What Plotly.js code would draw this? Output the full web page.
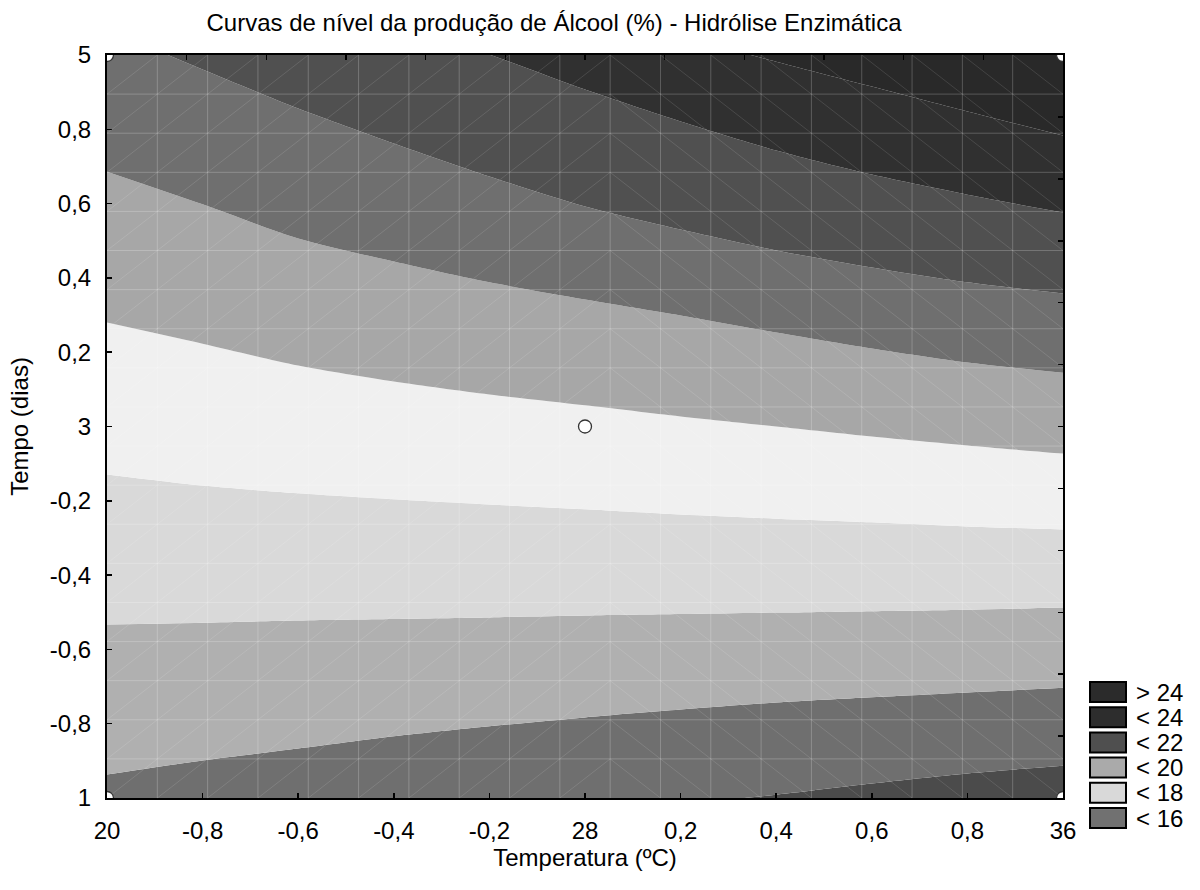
<!DOCTYPE html>
<html><head><meta charset="utf-8">
<script src="https://cdn.plot.ly/plotly-3.0.1.min.js"></script>
<style>html,body{margin:0;padding:0;background:#fff}#chart{width:1200px;height:890px}</style>
</head><body><div id="chart"></div>
<script>
// coded Temperatura positions at which the level boundaries were read
const xCoded = [-1, -0.8, -0.6, -0.4, -0.2, 0, 0.2, 0.4, 0.6, 0.8, 1];
// level boundaries (coded Tempo), bottom to top
const floorY = [-1.5, -1.5, -1.5, -1.5, -1.5, -1.5, -1.5, -1.5, -1.5, -1.5, -1.5];
const bLow4 = [-1.139, -1.112, -1.085, -1.068, -1.053, -1.039, -1.017, -0.991, -0.961, -0.934, -0.913];
const bLow3 = [-0.937, -0.899, -0.867, -0.834, -0.807, -0.783, -0.762, -0.743, -0.729, -0.716, -0.703];
const bLow2 = [-0.533, -0.528, -0.522, -0.518, -0.514, -0.509, -0.505, -0.501, -0.497, -0.493, -0.487];
const bLow1 = [-0.129, -0.159, -0.180, -0.196, -0.210, -0.223, -0.237, -0.248, -0.258, -0.269, -0.277];
const bUp1 = [0.280, 0.223, 0.164, 0.121, 0.086, 0.057, 0.027, 0.000, -0.027, -0.051, -0.073];
const bUp2 = [0.686, 0.598, 0.506, 0.444, 0.388, 0.342, 0.299, 0.253, 0.210, 0.172, 0.145];
const bUp3 = [1.069, 0.961, 0.856, 0.762, 0.673, 0.592, 0.530, 0.474, 0.428, 0.388, 0.358];
const bUp4 = [1.311, 1.230, 1.149, 1.082, 1.001, 0.907, 0.821, 0.743, 0.678, 0.624, 0.576];
const bUp5 = [1.391, 1.338, 1.284, 1.230, 1.176, 1.117, 1.050, 0.982, 0.915, 0.848, 0.783];
const ceilY = [1.5, 1.5, 1.5, 1.5, 1.5, 1.5, 1.5, 1.5, 1.5, 1.5, 1.5];
// fill colour of each band, bottom to top
const bandColors = ['#4b4b4b', '#6f6f6f', '#b0b0b0', '#d9d9d9', '#f0f0f0', '#a7a7a7', '#6f6f6f', '#505050', '#303030', '#292929'];

// experimental design points
const designX = [-1, -1, 1, 1, 0];
const designY = [-1, 1, -1, 1, 0];

// tick labels
const xTickVals = [-1, -0.8, -0.6, -0.4, -0.2, 0, 0.2, 0.4, 0.6, 0.8, 1];
const xTickText = ['20', '-0,8', '-0,6', '-0,4', '-0,2', '28', '0,2', '0,4', '0,6', '0,8', '36'];
const yTickVals = [-1, -0.8, -0.6, -0.4, -0.2, 0, 0.2, 0.4, 0.6, 0.8, 1];
const yTickText = ['1', '-0,8', '-0,6', '-0,4', '-0,2', '3', '0,2', '0,4', '0,6', '0,8', '5'];

// legend
const legendLabels = ['> 24', '< 24', '< 22', '< 20', '< 18', '< 16'];
const legendColors = ['#2b2b2b', '#2d2d2d', '#4f4f4f', '#aaaaaa', '#d9d9d9', '#717171'];

const boundaries = [floorY, bLow4, bLow3, bLow2, bLow1, bUp1, bUp2, bUp3, bUp4, bUp5, ceilY];

const FONT = 'Liberation Sans, Arial, sans-serif';
const FS = 24;
const traces = [];
boundaries.forEach((b, i) => {
  traces.push({
    type: 'scatter', mode: 'lines', x: xCoded, y: b,
    line: {width: 0, shape: 'spline', smoothing: 0.8},
    fill: i === 0 ? 'none' : 'tonexty',
    fillcolor: i === 0 ? undefined : bandColors[i - 1],
    hoverinfo: 'skip', showlegend: false
  });
});
traces.push({
  type: 'scatter', mode: 'markers', x: designX, y: designY, cliponaxis: true,
  marker: {symbol: 'circle', size: 13, color: '#ffffff', line: {color: '#333333', width: 1.3}},
  hoverinfo: 'skip', showlegend: false
});
// helper trace so the top / right axes are drawn
traces.push({type: 'scatter', mode: 'markers', x: [0], y: [0], xaxis: 'x2', yaxis: 'y2',
  marker: {opacity: 0}, hoverinfo: 'skip', showlegend: false});

const PL = 107, PR = 1063, PT = 55, PB = 798;
const px2x = p => (p - PL) / (PR - PL);
const py2y = p => (PB - p) / (PB - PT);

const shapes = [];
// triangulation mesh of the surface plot (decorative)
const N = 19;
const meshLine = {color: 'rgba(255,255,255,0.22)', width: 1};
const diagLine = {color: 'rgba(255,255,255,0.15)', width: 0.8};
for (let k = 1; k < N; k++) {
  shapes.push({type: 'line', xref: 'paper', yref: 'paper', x0: k / N, x1: k / N, y0: 0, y1: 1, line: meshLine, layer: 'above'});
  shapes.push({type: 'line', xref: 'paper', yref: 'paper', x0: 0, x1: 1, y0: k / N, y1: k / N, line: meshLine, layer: 'above'});
}
for (let i = 0; i < N; i++) {
  for (let j = 0; j < N; j++) {
    const rising = i <= 9;
    shapes.push({type: 'line', xref: 'paper', yref: 'paper',
      x0: i / N, x1: (i + 1) / N,
      y0: rising ? j / N : (j + 1) / N, y1: rising ? (j + 1) / N : j / N,
      line: diagLine, layer: 'above'});
  }
}
// legend boxes
const annotations = [];
legendLabels.forEach((lab, k) => {
  const cy = 692 + 25.2 * k;
  shapes.push({type: 'rect', xref: 'paper', yref: 'paper',
    x0: px2x(1090), x1: px2x(1126), y0: py2y(cy + 10), y1: py2y(cy - 10),
    fillcolor: legendColors[k], line: {color: '#000000', width: 2}, layer: 'above'});
  annotations.push({xref: 'paper', yref: 'paper', x: px2x(1134), y: py2y(cy),
    xanchor: 'left', yanchor: 'middle', showarrow: false, text: lab,
    font: {family: FONT, size: FS, color: '#000'}});
});

const axisCommon = {
  range: [-1, 1], showgrid: false, zeroline: false, showline: true,
  linecolor: '#000', linewidth: 2, ticks: 'inside', ticklen: 5, tickwidth: 1.5, tickcolor: '#000'
};

const layout = {
  width: 1200, height: 890,
  margin: {l: PL, r: 1200 - PR, t: PT, b: 890 - PB},
  paper_bgcolor: '#fff', plot_bgcolor: '#fff',
  font: {family: FONT, color: '#000'},
  title: {text: 'Curvas de nível da produção de Álcool (%) - Hidrólise Enzimática',
    xref: 'container', yref: 'container', x: 554 / 1200, xanchor: 'center', y: 1 - 23 / 890, yanchor: 'middle',
    font: {family: FONT, size: FS, color: '#000'}},
  xaxis: Object.assign({}, axisCommon, {
    tickmode: 'array', tickvals: xTickVals, ticktext: xTickText,
    tickfont: {family: FONT, size: FS, color: '#000'}, ticklabelstandoff: 10,
    title: {text: 'Temperatura (ºC)', font: {family: FONT, size: FS, color: '#000'}, standoff: 4}
  }),
  yaxis: Object.assign({}, axisCommon, {
    tickmode: 'array', tickvals: yTickVals, ticktext: yTickText,
    tickfont: {family: FONT, size: FS, color: '#000'}, ticklabelstandoff: 9,
    title: {text: 'Tempo (dias)', font: {family: FONT, size: FS, color: '#000'}, standoff: 14}
  }),
  xaxis2: Object.assign({}, axisCommon, {overlaying: 'x', side: 'top', anchor: 'y2',
    tickmode: 'linear', tick0: -1, dtick: 2 / 12, showticklabels: false}),
  yaxis2: Object.assign({}, axisCommon, {overlaying: 'y', side: 'right', anchor: 'x2',
    tickmode: 'linear', tick0: -1, dtick: 2 / 12, showticklabels: false}),
  shapes: shapes, annotations: annotations, showlegend: false
};
Plotly.newPlot('chart', traces, layout, {displayModeBar: false, staticPlot: true});
</script></body></html>
